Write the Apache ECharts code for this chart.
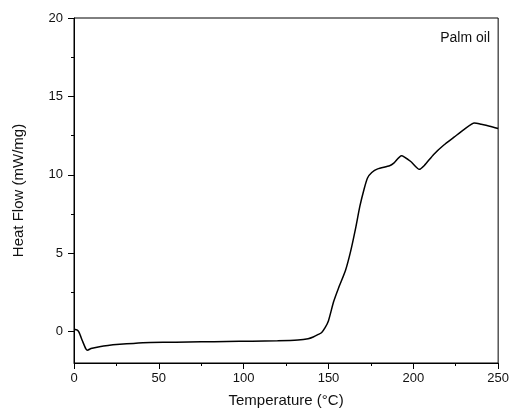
<!DOCTYPE html>
<html><head><meta charset="utf-8">
<script src="https://cdn.jsdelivr.net/npm/echarts@6/dist/echarts.min.js"></script>
<style>html,body{margin:0;padding:0;background:#fff}#c{width:512px;height:414px}</style>
</head><body><div id="c"></div>
<script>
const temperature = [0,2,3,5,7,8,10,15,20,27,35,45,60,75,90,105,120,132,138,141,144,146,148,150,153,156,160,163,166,168.5,171,173,175.5,179,186,188.5,193,198.5,203.5,206.5,212,218,224,230,236,240,245,250];
const heatFlow = [0.15,0.1,-0.05,-0.6,-1.1,-1.18,-1.08,-0.96,-0.88,-0.81,-0.75,-0.70,-0.67,-0.65,-0.63,-0.61,-0.58,-0.53,-0.45,-0.34,-0.18,-0.05,0.25,0.7,1.9,2.8,3.9,5.1,6.6,8.0,9.1,9.8,10.15,10.38,10.58,10.75,11.22,10.85,10.35,10.6,11.3,11.9,12.4,12.9,13.3,13.22,13.1,12.95];
const yMajorTicks = [0,5,10,15,20];
const yMinorTicks = [2.5,7.5,12.5,17.5];
const xTicks = [0,50,100,150,200,250];
const FONT = 'Liberation Sans';

const chart = echarts.init(document.getElementById('c'), null, {renderer:'canvas'});
chart.setOption({
  animation:false,
  backgroundColor:'#fff',
  grid:{left:74,right:10,top:18,bottom:51,show:true,borderColor:'#000',borderWidth:1,backgroundColor:'transparent'},
  graphic:[{type:'text',right:22,top:31,style:{text:'Palm oil',font:'14px "Liberation Sans"',fill:'#111'}}],
  xAxis:{type:'value',min:0,max:250,interval:50,
    name:'Temperature (°C)',nameLocation:'middle',nameGap:30,
    nameTextStyle:{fontFamily:FONT,fontSize:15,color:'#111'},
    axisLine:{onZero:false,lineStyle:{color:'#000',width:1}},
    axisTick:{length:6,lineStyle:{color:'#000'}},
    minorTick:{show:true,splitNumber:2,length:3,lineStyle:{color:'#000'}},
    axisLabel:{fontFamily:FONT,fontSize:13,color:'#111',margin:9},
    splitLine:{show:false}},
  yAxis:[{type:'value',min:-2,max:20,
    name:'Heat Flow (mW/mg)',nameLocation:'middle',nameGap:48,
    nameTextStyle:{fontFamily:FONT,fontSize:15,color:'#111'},
    axisLine:{show:true,onZero:false,lineStyle:{color:'#000',width:1}},
    axisTick:{show:true,length:6,customValues:yMajorTicks,lineStyle:{color:'#000'}},
    axisLabel:{fontFamily:FONT,fontSize:13,color:'#111',margin:11,customValues:yMajorTicks},
    splitLine:{show:false}},
   {type:'value',min:-2,max:20,position:'left',
    axisLine:{show:false,onZero:false},
    axisTick:{show:true,length:3,customValues:yMinorTicks,lineStyle:{color:'#000'}},
    axisLabel:{show:false},
    splitLine:{show:false}}],
  series:[{type:'line',yAxisIndex:0,showSymbol:false,
    data:temperature.map((t,i)=>[t,heatFlow[i]]),
    lineStyle:{color:'#000',width:1.5},smooth:0.2}]
});
</script></body></html>
